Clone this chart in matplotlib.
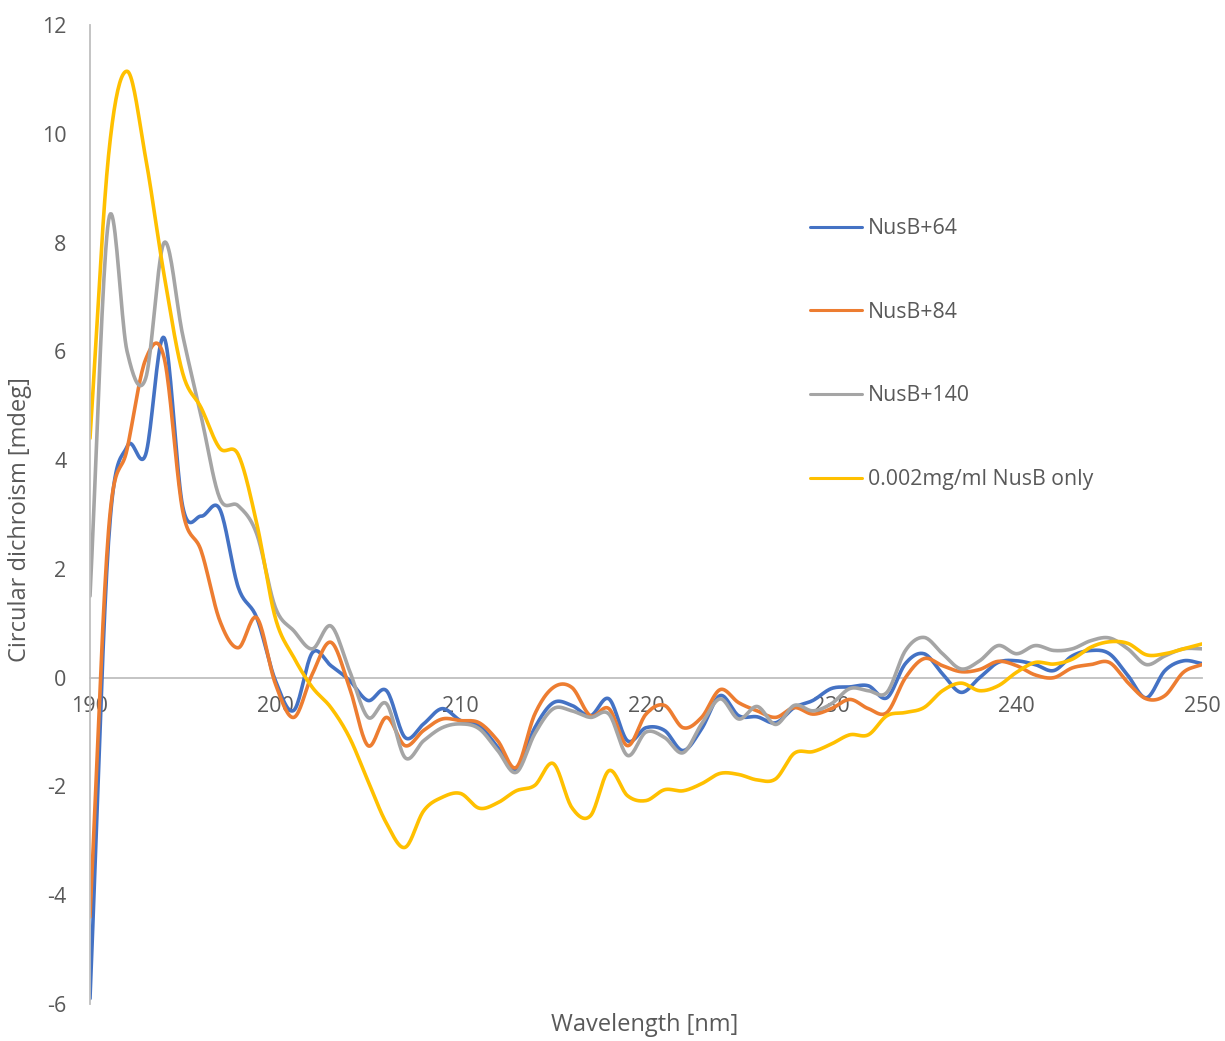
import numpy as np
import matplotlib
matplotlib.use("Agg")
import matplotlib.pyplot as plt

plt.rcParams['font.family'] = ['Open Sans', 'DejaVu Sans']
plt.rcParams['axes.unicode_minus'] = False

wavelength = list(range(190, 251))

nusb_64 = [-5.9, 2.5, 4.25, 4.1, 6.25, 3.15, 2.97, 3.1, 1.66, 1.1,
           -0.05, -0.6, 0.46, 0.22, -0.05, -0.42, -0.24, -1.1, -0.85, -0.57,
           -0.79, -0.88, -1.28, -1.68, -0.92, -0.46, -0.51, -0.7, -0.39, -1.16,
           -0.92, -0.97, -1.34, -0.94, -0.33, -0.7, -0.72, -0.83, -0.55, -0.42,
           -0.2, -0.17, -0.15, -0.37, 0.26, 0.44, 0.07, -0.27, 0.0, 0.28,
           0.31, 0.24, 0.13, 0.4, 0.5, 0.44, 0.04, -0.37, 0.13, 0.31,
           0.26]

nusb_84 = [-4.4, 2.7, 4.2, 5.85, 5.88, 3.07, 2.33, 1.05, 0.55, 1.1,
           -0.11, -0.73, 0.07, 0.65, -0.18, -1.25, -0.73, -1.25, -0.97, -0.76,
           -0.79, -0.83, -1.16, -1.65, -0.67, -0.18, -0.18, -0.7, -0.57, -1.25,
           -0.67, -0.51, -0.92, -0.73, -0.22, -0.46, -0.61, -0.73, -0.55, -0.67,
           -0.57, -0.4, -0.57, -0.64, 0.0, 0.35, 0.22, 0.11, 0.15, 0.3,
           0.22, 0.05, 0.0, 0.18, 0.24, 0.28, -0.09, -0.39, -0.33, 0.1,
           0.24]

nusb_140 = [1.5, 8.4, 6.0, 5.5, 8.0, 6.3, 4.8, 3.3, 3.16, 2.64,
            1.29, 0.86, 0.53, 0.95, 0.13, -0.73, -0.48, -1.47, -1.16, -0.92,
            -0.85, -0.94, -1.34, -1.74, -1.03, -0.57, -0.61, -0.73, -0.67, -1.43,
            -1.0, -1.1, -1.38, -0.85, -0.39, -0.76, -0.53, -0.86, -0.51, -0.61,
            -0.48, -0.2, -0.24, -0.27, 0.5, 0.74, 0.44, 0.16, 0.31, 0.59,
            0.44, 0.59, 0.5, 0.53, 0.68, 0.73, 0.53, 0.24, 0.4, 0.53,
            0.53]

nusb_only = [4.4, 9.6, 11.15, 9.56, 7.4, 5.6, 4.96, 4.22, 4.1, 2.83,
             1.1, 0.37, -0.18, -0.55, -1.1, -1.9, -2.68, -3.12, -2.45, -2.2,
             -2.13, -2.4, -2.3, -2.08, -1.98, -1.58, -2.39, -2.54, -1.71, -2.17,
             -2.26, -2.06, -2.08, -1.95, -1.76, -1.78, -1.88, -1.86, -1.39, -1.36,
             -1.22, -1.05, -1.05, -0.7, -0.64, -0.55, -0.24, -0.1, -0.24, -0.15,
             0.1, 0.28, 0.25, 0.34, 0.56, 0.66, 0.63, 0.42, 0.44, 0.53,
             0.62]

series_labels = ["NusB+64", "NusB+84", "NusB+140", "0.002mg/ml NusB only"]
series_colors = ["#4472C4", "#ED7D31", "#A5A5A5", "#FFC000"]
x_ticks = [190, 200, 210, 220, 230, 240, 250]
y_ticks = [-6, -4, -2, 0, 2, 4, 6, 8, 10, 12]


def smooth(x, y, n=20):
    """Catmull-Rom spline through every sample, like a smoothed line chart."""
    x = np.asarray(x, float)
    y = np.asarray(y, float)
    px = np.concatenate([[2 * x[0] - x[1]], x, [2 * x[-1] - x[-2]]])
    py = np.concatenate([[2 * y[0] - y[1]], y, [2 * y[-1] - y[-2]]])
    t = np.linspace(0, 1, n, endpoint=False)
    xs, ys = [], []
    for i in range(1, len(px) - 2):
        for p, out in ((px, xs), (py, ys)):
            p0, p1, p2, p3 = p[i - 1], p[i], p[i + 1], p[i + 2]
            out.append(0.5 * (2 * p1 + (-p0 + p2) * t
                              + (2 * p0 - 5 * p1 + 4 * p2 - p3) * t ** 2
                              + (-p0 + 3 * p1 - 3 * p2 + p3) * t ** 3))
    xs.append([x[-1]])
    ys.append([y[-1]])
    return np.concatenate(xs), np.concatenate(ys)


fig = plt.figure(figsize=(12.25, 10.41), dpi=100)
ax = fig.add_axes([90 / 1225, 37 / 1041, 1112 / 1225, 979 / 1041])

for data, label, color in zip([nusb_64, nusb_84, nusb_140, nusb_only],
                              series_labels, series_colors):
    sx, sy = smooth(wavelength, data)
    ax.plot(sx, sy, color=color, lw=2.6, label=label, solid_capstyle='round')

ax.set_xlim(190, 250)
ax.set_ylim(-6, 12)
ax.set_xticks(x_ticks)
ax.set_yticks(y_ticks)

for side in ('top', 'right'):
    ax.spines[side].set_visible(False)
ax.spines['bottom'].set_position(('data', 0))
ax.spines['bottom'].set_color('#BFBFBF')
ax.spines['bottom'].set_linewidth(1.3)
ax.spines['left'].set_color('#BFBFBF')
ax.spines['left'].set_linewidth(1.3)
ax.spines['bottom'].set_zorder(0.5)

ax.tick_params(axis='x', length=0, pad=13, labelsize=15.5, labelcolor='#595959')
ax.tick_params(axis='y', length=0, pad=17, labelsize=15.5, labelcolor='#595959')

fig.text(645 / 1225, 1 - 1025 / 1041, "Wavelength [nm]", ha='center', va='center',
         fontsize=17, color='#595959')
fig.text(20 / 1225, 1 - 520 / 1041, "Circular dichroism [mdeg]", ha='center',
         va='center', rotation=90, fontsize=17, color='#595959')

leg = ax.legend(loc='upper left', bbox_to_anchor=(810 / 1225, 1 - 218 / 1041),
                bbox_transform=fig.transFigure, frameon=False, fontsize=15.3,
                labelspacing=2.95, handlelength=2.45, handletextpad=0.28,
                borderpad=0, borderaxespad=0)
for text in leg.get_texts():
    text.set_color('#595959')
for line in leg.get_lines():
    line.set_linewidth(2.2)

fig.savefig("out.png", dpi=100)
